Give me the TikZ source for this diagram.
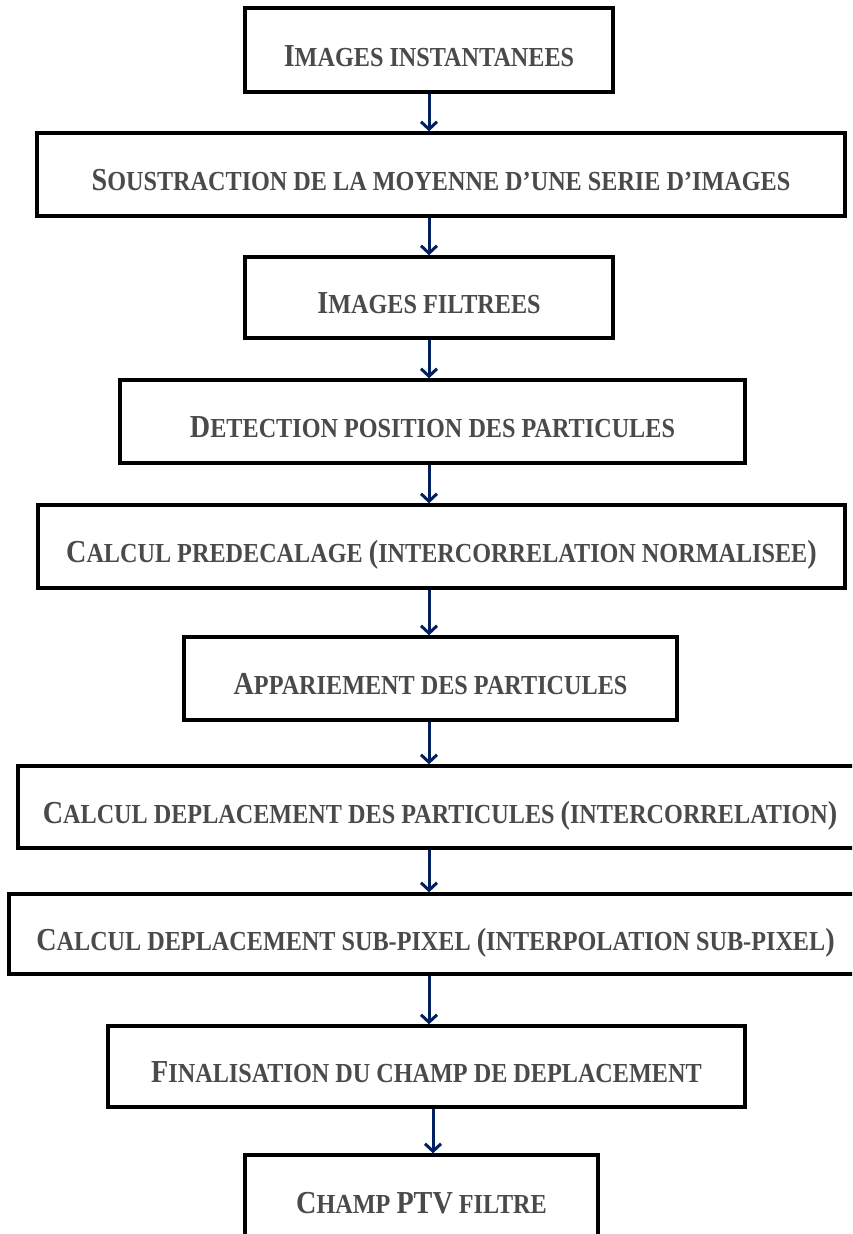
\documentclass[tikz,border=0pt]{standalone}
\usepackage{fontspec}
\setmainfont{Liberation Serif}[FakeStretch=0.88]
\usetikzlibrary{arrows.meta}
\definecolor{txtgray}{RGB}{74,74,74}
\definecolor{arrnavy}{RGB}{0,32,96}
\newcommand\bc[1]{{\fontsize{32}{34}\selectfont #1}}
\begin{document}
\begin{tikzpicture}[x=1pt,y=-1pt,
  box/.style={draw=black, line width=3.4pt, fill=white, rectangle, inner sep=0pt,
    font=\bfseries\fontsize{27.5}{30}\selectfont, text=txtgray, text height=32pt, text depth=0pt},
  flow/.style={draw=arrnavy, line width=3pt, -{Straight Barb[length=7.5pt,width=16pt]}}]
\useasboundingbox (0,0) rectangle (852,1234);
\clip (0,0) rectangle (852,1234);
\fill[white] (0,0) rectangle (852,1234);
\node[box, minimum width=368pt, minimum height=84pt] (b1) at (429,50) {\bc{I}MAGES INSTANTANEES};
\node[box, minimum width=808pt, minimum height=83pt] (b2) at (441,174.5) {\bc{S}OUSTRACTION DE LA MOYENNE D’UNE SERIE D’IMAGES};
\node[box, minimum width=368pt, minimum height=81pt] (b3) at (429,297.5) {\bc{I}MAGES FILTREES};
\node[box, minimum width=625pt, minimum height=83pt] (b4) at (432.5,421.5) {\bc{D}ETECTION POSITION DES PARTICULES};
\node[box, minimum width=807pt, minimum height=83pt] (b5) at (441.5,546.5) {\bc{C}ALCUL PREDECALAGE \bc{(}INTERCORRELATION NORMALISEE\bc{)}};
\node[box, minimum width=493pt, minimum height=83pt] (b6) at (430.5,678.5) {\bc{A}PPARIEMENT DES PARTICULES};
\node[box, minimum width=844pt, minimum height=82pt] (b7) at (440,807) {\bc{C}ALCUL DEPLACEMENT DES PARTICULES \bc{(}INTERCORRELATION\bc{)}\hspace{8pt}};
\node[box, minimum width=853pt, minimum height=80pt] (b8) at (435.5,934) {\bc{C}ALCUL DEPLACEMENT SUB-PIXEL \bc{(}INTERPOLATION SUB-PIXEL\bc{)}\hspace{3pt}};
\node[box, minimum width=637pt, minimum height=81pt] (b9) at (426.5,1066.5) {\bc{F}INALISATION DU CHAMP DE DEPLACEMENT};
\node[box, minimum width=353pt, minimum height=85pt] (b10) at (421.5,1197.5) {\bc{C}HAMP \bc{PTV} FILTRE};
\coordinate (ax) at (429,0);
\coordinate (bx) at (433,0);
\draw[flow] (b1.south -| ax) -- (b2.north -| ax);
\draw[flow] (b2.south -| ax) -- (b3.north -| ax);
\draw[flow] (b3.south -| ax) -- (b4.north -| ax);
\draw[flow] (b4.south -| ax) -- (b5.north -| ax);
\draw[flow] (b5.south -| ax) -- (b6.north -| ax);
\draw[flow] (b6.south -| ax) -- (b7.north -| ax);
\draw[flow] (b7.south -| ax) -- (b8.north -| ax);
\draw[flow] (b8.south -| ax) -- (b9.north -| ax);
\draw[flow] (b9.south -| bx) -- (b10.north -| bx);
\end{tikzpicture}
\end{document}
